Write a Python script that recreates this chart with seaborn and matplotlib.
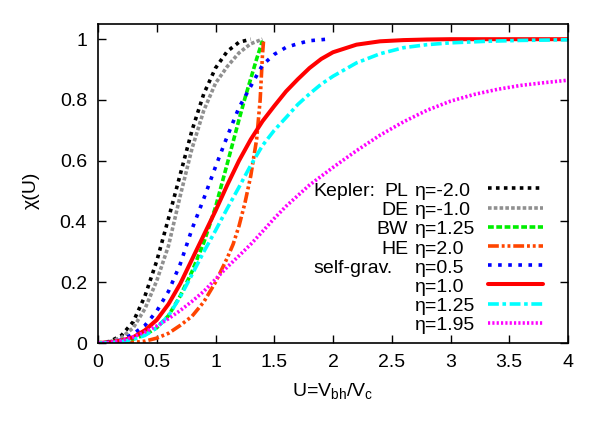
import matplotlib
matplotlib.use('Agg')
import matplotlib.pyplot as plt
import seaborn as sns
from matplotlib.ticker import MultipleLocator, FuncFormatter

# ---- data ----
pl_x = [0, 0.1, 0.2, 0.3, 0.4, 0.5, 0.6, 0.7, 0.8, 0.9, 1.0, 1.1, 1.2, 1.3]
pl_y = [0, 0.005, 0.025, 0.07, 0.155, 0.27, 0.41, 0.555, 0.70, 0.82, 0.905, 0.96, 0.99, 1.0]

de_x = [0, 0.1, 0.2, 0.3, 0.4, 0.5, 0.6, 0.7, 0.8, 0.9, 1.0, 1.1, 1.2, 1.3, 1.4]
de_y = [0, 0.004, 0.018, 0.05, 0.113, 0.205, 0.32, 0.485, 0.64, 0.765, 0.855, 0.91, 0.955, 0.985, 1.0]

bw_x = [0, 0.1, 0.2, 0.3, 0.4, 0.5, 0.6, 0.7, 0.8, 0.9, 1.0, 1.1, 1.2, 1.25, 1.3, 1.35, 1.4]
bw_y = [0, 0.001, 0.005, 0.013, 0.027, 0.05, 0.09, 0.155, 0.235, 0.33, 0.447, 0.59, 0.735, 0.805, 0.87, 0.935, 0.995]

he_x = [0, 0.2, 0.3, 0.4, 0.5, 0.6, 0.7, 0.8, 0.9, 1.0, 1.1, 1.15, 1.2, 1.25, 1.3, 1.35, 1.38, 1.4, 1.41]
he_y = [0, 0.0, 0.002, 0.006, 0.016, 0.032, 0.058, 0.088, 0.135, 0.2, 0.28, 0.325, 0.385, 0.46, 0.55, 0.67, 0.8, 0.95, 1.0]

sg05_x = [0, 0.1, 0.2, 0.3, 0.4, 0.5, 0.6, 0.7, 0.8, 0.9, 1.0, 1.1, 1.2, 1.3, 1.4, 1.5, 1.6, 1.7, 1.8, 1.95]
sg05_y = [0, 0.002, 0.01, 0.03, 0.058, 0.105, 0.17, 0.26, 0.375, 0.475, 0.58, 0.68, 0.775, 0.845, 0.915, 0.95, 0.973, 0.985, 0.995, 1.0]

sg10_x = [0, 0.1, 0.2, 0.3, 0.4, 0.5, 0.6, 0.7, 0.8, 0.9, 1.0, 1.1, 1.2, 1.3, 1.4, 1.5, 1.6, 1.7,
          1.8, 1.9, 2.0, 2.2, 2.4, 2.6, 2.8, 3.0, 3.5, 4.0]
sg10_y = [0, 0.002, 0.008, 0.019, 0.042, 0.076, 0.128, 0.195, 0.275, 0.355, 0.435, 0.52, 0.6, 0.67,
          0.73, 0.78, 0.828, 0.868, 0.905, 0.935, 0.957, 0.982, 0.993, 0.997, 0.999, 1.0, 1.0, 1.0]

sg125_x = [0, 0.1, 0.2, 0.3, 0.4, 0.5, 0.6, 0.7, 0.8, 0.9, 1.0, 1.1, 1.2, 1.3, 1.4, 1.5, 1.6, 1.7,
           1.8, 1.9, 2.0, 2.2, 2.4, 2.6, 2.8, 3.0, 3.3, 3.6, 4.0]
sg125_y = [0, 0.001, 0.005, 0.012, 0.025, 0.05, 0.09, 0.152, 0.225, 0.3, 0.37, 0.443, 0.513, 0.585,
           0.65, 0.7, 0.742, 0.785, 0.82, 0.852, 0.878, 0.922, 0.952, 0.972, 0.982, 0.988, 0.993, 0.996, 0.998]

sg195_x = [0, 0.1, 0.2, 0.3, 0.4, 0.5, 0.6, 0.7, 0.8, 0.9, 1.0, 1.1, 1.2, 1.3, 1.4, 1.5, 1.6, 1.8,
           2.0, 2.2, 2.4, 2.6, 2.8, 3.0, 3.2, 3.4, 3.6, 3.8, 4.0]
sg195_y = [0, 0.002, 0.008, 0.02, 0.036, 0.056, 0.08, 0.107, 0.137, 0.17, 0.21, 0.25, 0.287, 0.325,
           0.367, 0.41, 0.45, 0.52, 0.578, 0.633, 0.684, 0.728, 0.766, 0.796, 0.818, 0.835, 0.848, 0.857, 0.865]

prefixes = ["PL", "DE", "BW", "HE", "", "", "", ""]
eta_labels = ["η=-2.0", "η=-1.0", "η=1.25", "η=2.0", "η=0.5", "η=1.0", "η=1.25", "η=1.95"]
x_ticks = [0, 0.5, 1, 1.5, 2, 2.5, 3, 3.5, 4]
y_ticks = [0, 0.2, 0.4, 0.6, 0.8, 1.0]

# ---- style ----
sns.set_theme(style='ticks')
plt.rcParams['font.family'] = ['Liberation Sans', 'DejaVu Sans']
plt.rcParams['mathtext.default'] = 'regular'
for k in ['text.color', 'axes.labelcolor', 'xtick.color', 'ytick.color', 'axes.edgecolor']:
    plt.rcParams[k] = 'black'

fig = plt.figure(figsize=(6, 4.21), dpi=100)
W, H = 600, 421
ax = fig.add_axes([98 / W, 1 - 343 / H, 470 / W, 319 / H])

series = [
    (pl_x, pl_y, '#000000', (0, (1, 1.2)), 2.6),
    (de_x, de_y, '#909090', (0, (1, 0.6)), 2.6),
    (bw_x, bw_y, '#00ee00', (0, (1.6, 0.7)), 2.6),
    (he_x, he_y, '#ff4500', (0, (3, 0.8, 0.8, 0.8, 0.8, 0.8)), 2.6),
    (sg05_x, sg05_y, '#0000ff', (0, (1, 1.8)), 2.6),
    (sg10_x, sg10_y, '#ff0000', '-', 2.9),
    (sg125_x, sg125_y, '#00ffff', (0, (3, 1, 1, 1)), 2.6),
    (sg195_x, sg195_y, '#ff00ff', (0, (0.6, 0.6)), 2.6),
]
for xs, ys, c, ls, lw in series:
    sns.lineplot(x=xs, y=ys, ax=ax, color=c, linestyle=ls, linewidth=lw,
                 estimator=None, sort=False)

ax.set_xlim(0, 4)
ax.set_ylim(0, 1.05)
ax.set_xticks(x_ticks)
ax.set_yticks(y_ticks)
fmt = FuncFormatter(lambda v, p: '%g' % v)
ax.xaxis.set_major_formatter(fmt)
ax.yaxis.set_major_formatter(fmt)
ax.tick_params(direction='in', length=6, width=1, top=True, right=True, labelsize=14)
ax.tick_params(axis='x', pad=8)
ax.tick_params(axis='y', pad=8)
for s in ax.spines.values():
    s.set_linewidth(1.2)
    s.set_color('black')

ax.set_xlabel('U=V$_{bh}$/V$_c$', fontsize=14)
ax.set_ylabel('χ(U)', fontsize=14)
ax.xaxis.set_label_coords(0.5, (343 - 381) / 319)
ax.yaxis.set_label_coords((40 - 98) / 470, (343 - 190) / 319)

# ---- legend (line samples) ----
handles = ax.get_lines()[:8]
leg_fs = 14
leg = ax.legend(handles, [''] * 8, loc='upper left', bbox_to_anchor=(0.83, 0.52),
                frameon=False, fontsize=leg_fs, handlelength=55 / (leg_fs * 100 / 72),
                handletextpad=0, borderpad=0, borderaxespad=0, labelspacing=0.082)

fig.canvas.draw()
r = fig.canvas.get_renderer()
inv = ax.transAxes.inverted()
# align first legend sample with target position
lines = leg.get_lines()
b0 = lines[0].get_window_extent(r)
target_x, target_y = 488, H - 188.3
dx = target_x - b0.x0
dy = target_y - (b0.y0 + b0.y1) / 2
ax_w = ax.get_window_extent(r)
bx, by = 0.83 + dx / ax_w.width, 0.52 + dy / ax_w.height
leg.set_bbox_to_anchor((bx, by), transform=ax.transAxes)
fig.canvas.draw()

rows = []
for ln in leg.get_lines():
    b = ln.get_window_extent(r)
    rows.append((b.y0 + b.y1) / 2)

def place(px, py, s, ha):
    ax_xy = inv.transform((px, py))
    ax.text(ax_xy[0], ax_xy[1], s, transform=ax.transAxes, ha=ha, va='baseline', fontsize=14)

for i, y in enumerate(rows):
    base = y - 7.7
    place(415, base, eta_labels[i], 'left')
    if prefixes[i]:
        place(408, base, prefixes[i], 'right')
place(313.3, rows[0] - 7.7, 'Kepler:', 'left')
place(313.3, rows[4] - 7.7, 'self-grav.', 'left')

fig.savefig('out.png', dpi=100)
